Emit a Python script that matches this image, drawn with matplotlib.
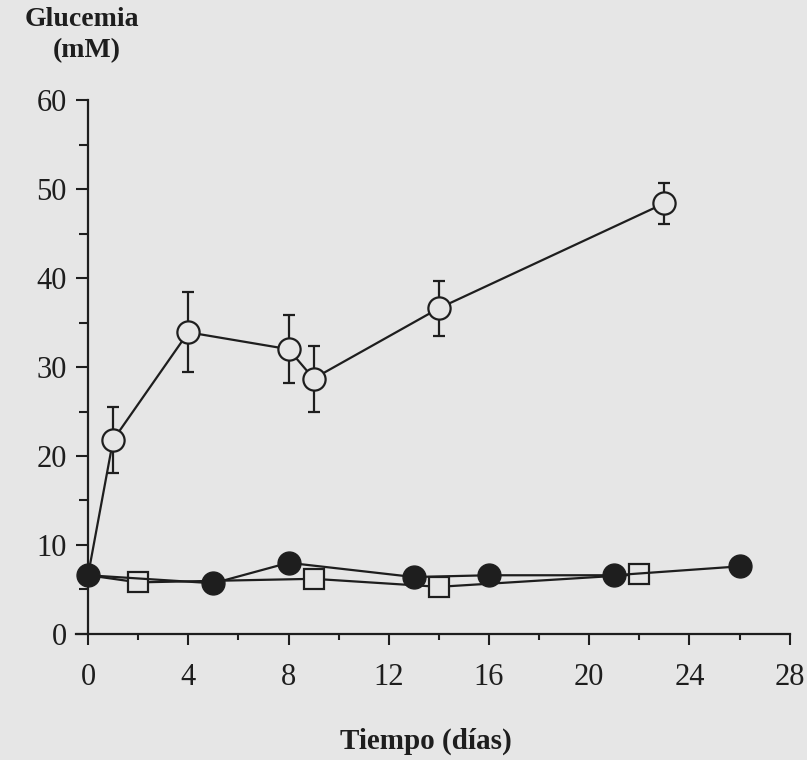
import numpy as np
import matplotlib.pyplot as plt
from matplotlib.ticker import MultipleLocator

# Glucemia (mM) a lo largo del tiempo, tres grupos
dias_diab = [0, 1, 4, 8, 9, 14, 23]
gluc_diab = [6.6, 21.8, 33.9, 32.0, 28.7, 36.6, 48.4]
err_diab = [0.0, 3.7, 4.5, 3.8, 3.7, 3.1, 2.3]

dias_ctrl = [0, 5, 8, 13, 16, 21, 26]
gluc_ctrl = [6.6, 5.7, 8.0, 6.4, 6.6, 6.6, 7.6]

dias_trat = [0, 2, 9, 14, 22]
gluc_trat = [6.6, 5.8, 6.2, 5.3, 6.7]

xticks = [0, 4, 8, 12, 16, 20, 24, 28]
yticks = [0, 10, 20, 30, 40, 50, 60]

plt.rcParams['font.family'] = ['Liberation Serif', 'DejaVu Serif']
fondo = '#e6e6e6'
tinta = '#1e1e1e'
lw = 1.6

fig = plt.figure(figsize=(8.07, 7.6), dpi=100, facecolor=fondo)
ax = fig.add_axes([0.0936, 0.1658, 0.885, 0.7026], facecolor=fondo)

# circulos abiertos: el dia 0 queda bajo el circulo lleno, sin marcador
ax.errorbar(dias_diab[1:], gluc_diab[1:], yerr=err_diab[1:], fmt='none',
            ecolor=tinta, elinewidth=lw, capsize=4.5, capthick=lw,
            clip_on=False, zorder=2)
ax.plot(dias_diab, gluc_diab, color=tinta, lw=lw, marker='o', ms=16,
        mfc=fondo, mec=tinta, mew=lw, markevery=list(range(1, len(dias_diab))),
        clip_on=False, zorder=3)
# cuadrados abiertos
ax.plot(dias_trat, gluc_trat, color=tinta, lw=lw, marker='s', ms=15,
        mfc=fondo, mec=tinta, mew=lw, markevery=list(range(1, len(dias_trat))),
        clip_on=False, zorder=4)
# circulos llenos
ax.plot(dias_ctrl, gluc_ctrl, color=tinta, lw=lw, marker='o', ms=16.5,
        mfc=tinta, mec=tinta, clip_on=False, zorder=5)

ax.set_xlim(-0.5, 28)
ax.set_ylim(0, 60)
ax.spines['left'].set_position(('data', 0))
ax.spines['right'].set_visible(False)
ax.spines['top'].set_visible(False)
for s in ('left', 'bottom'):
    ax.spines[s].set_color(tinta)
    ax.spines[s].set_linewidth(lw)

ax.set_xticks(xticks)
ax.set_yticks(yticks)
ax.xaxis.set_minor_locator(MultipleLocator(2))
ax.yaxis.set_minor_locator(MultipleLocator(5))
ax.tick_params(axis='both', which='both', direction='out', color=tinta,
               width=1.5, labelsize=22, labelcolor=tinta)
ax.tick_params(axis='x', which='major', length=8, pad=13)
ax.tick_params(axis='x', which='minor', length=4.5)
ax.tick_params(axis='y', which='major', length=8.5, pad=7)
ax.tick_params(axis='y', which='minor', length=6.5)

fig.text(0.102, 0.966, 'Glucemia', ha='center', va='baseline', fontsize=20,
         fontweight='bold', color=tinta)
fig.text(0.107, 0.925, '(mM)', ha='center', va='baseline', fontsize=20,
         fontweight='bold', color=tinta)
fig.text(0.528, 0.0145, 'Tiempo (días)', ha='center', va='baseline',
         fontsize=21, fontweight='bold', color=tinta)

fig.savefig('out.png', dpi=100, facecolor=fondo)
